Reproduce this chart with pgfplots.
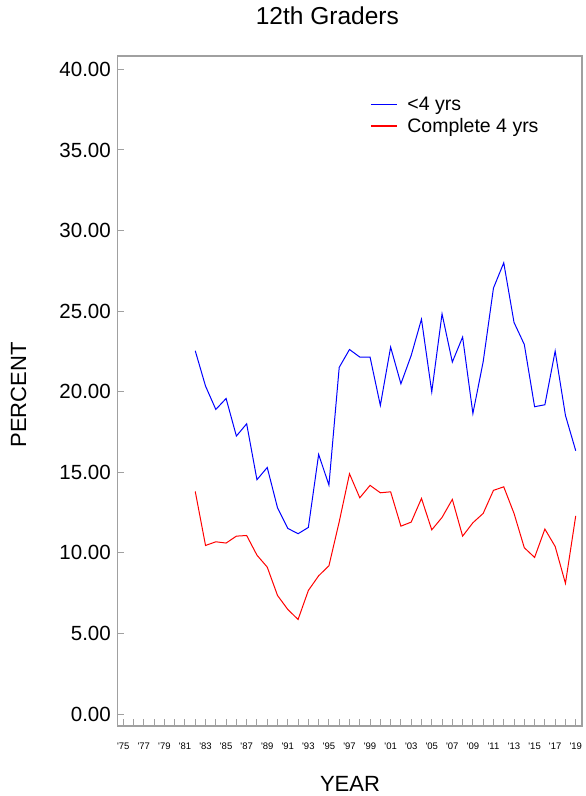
\documentclass[border=0pt]{standalone}
\usepackage{fontspec}
\setmainfont{Liberation Sans}
\usepackage{pgfplots}
\usepackage{pgfplotstable}
\pgfplotsset{compat=1.18}
\definecolor{axisgray}{RGB}{160,160,160}
\definecolor{lineblue}{RGB}{0,0,255}
\definecolor{linered}{RGB}{255,0,0}

\pgfplotstableread{
year lt4 c4
1982 22.54 13.81
1983 20.35 10.46
1984 18.90 10.69
1985 19.58 10.61
1986 17.25 11.04
1987 18.01 11.08
1988 14.54 9.86
1989 15.30 9.12
1990 12.80 7.36
1991 11.52 6.49
1992 11.19 5.87
1993 11.58 7.67
1994 16.11 8.58
1995 14.21 9.20
1996 21.51 11.93
1997 22.62 14.91
1998 22.15 13.42
1999 22.15 14.19
2000 19.15 13.73
2001 22.77 13.79
2002 20.49 11.66
2003 22.25 11.91
2004 24.50 13.38
2005 19.99 11.43
2006 24.83 12.20
2007 21.84 13.32
2008 23.39 11.04
2009 18.65 11.87
2010 21.86 12.45
2011 26.43 13.88
2012 28.00 14.10
2013 24.30 12.45
2014 22.93 10.32
2015 19.07 9.72
2016 19.19 11.48
2017 22.52 10.40
2018 18.53 8.11
2019 16.34 12.30
}\datatable

\begin{document}
\begin{tikzpicture}
\path[use as bounding box] (0,0) rectangle (586pt,796pt);
\begin{axis}[
  at={(117.3pt,70pt)}, anchor=south west,
  scale only axis, width=464.7pt, height=670pt,
  xmin=1974.42, xmax=2019.61, ymin=-0.74, ymax=40.83,
  axis line style={axisgray, line width=1.2pt},
  tick style={axisgray, line width=1pt},
  tick align=inside,
  xtick pos=bottom, ytick pos=left,
  xtick={1975,1977,...,2019},
  minor xtick={1976,1978,...,2018},
  xticklabels={\textquotesingle75,\textquotesingle77,\textquotesingle79,\textquotesingle81,\textquotesingle83,\textquotesingle85,\textquotesingle87,\textquotesingle89,\textquotesingle91,\textquotesingle93,\textquotesingle95,\textquotesingle97,\textquotesingle99,\textquotesingle01,\textquotesingle03,\textquotesingle05,\textquotesingle07,\textquotesingle09,\textquotesingle11,\textquotesingle13,\textquotesingle15,\textquotesingle17,\textquotesingle19},
  major tick length=7pt, minor tick length=7pt,
  ytick={0,5,...,40},
  /pgf/number format/assume math mode=true,
  yticklabel style={font=\fontsize{20.5}{24}\selectfont, xshift=-3pt,
    /pgf/number format/fixed, /pgf/number format/fixed zerofill, /pgf/number format/precision=2},
  xticklabel style={font=\fontsize{9.5}{11}\selectfont, yshift=-13pt},
  title={12th Graders},
  title style={at={(axis description cs:0.452,1.0505)}, anchor=center, font=\fontsize{24.5}{28}\selectfont},
  xlabel={YEAR},
  xlabel style={at={(axis description cs:0.5008,-0.0866)}, anchor=center, font=\fontsize{22}{26}\selectfont},
  ylabel={PERCENT},
  ylabel style={at={(axis description cs:-0.2126,0.494)}, anchor=center, font=\fontsize{22}{26}\selectfont},
  legend style={at={(axis description cs:0.5438,0.9418)}, anchor=north west, draw=none, fill=none,
    font=\fontsize{19.5}{22}\selectfont, inner sep=0pt, row sep=2pt},
  legend cell align=left,
  legend image code/.code={\draw[#1, line width=1.4pt] (0pt,0pt) -- (26pt,0pt); \path (34pt,0pt);},
]
\addplot[lineblue, line width=1pt] table[x=year, y=lt4] {\datatable};
\addlegendentry{<4 yrs}
\addplot[linered, line width=1pt] table[x=year, y=c4] {\datatable};
\addlegendentry{Complete 4 yrs}
\end{axis}
\end{tikzpicture}
\end{document}
